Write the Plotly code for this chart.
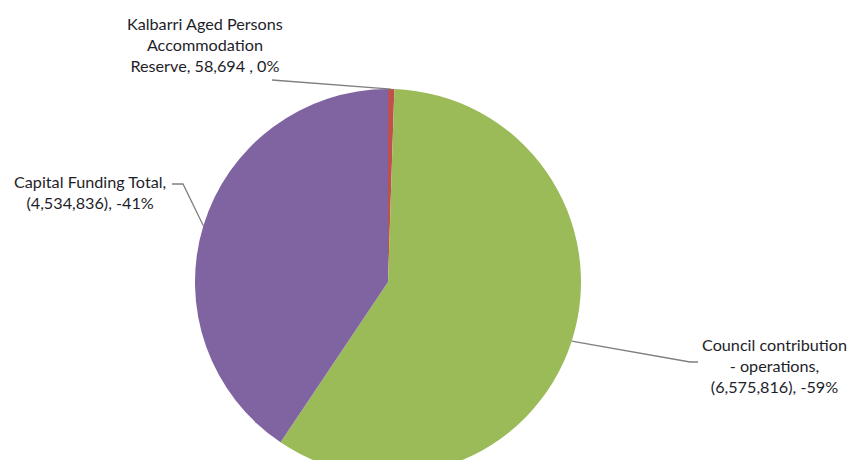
import math
import plotly.graph_objects as go

# ---- data ----
categories = ["Kalbarri Aged Persons Accommodation Reserve",
              "Council contribution - operations",
              "Capital Funding Total"]
values = [58694, -6575816, -4534836]
pct_labels = ["0%", "-59%", "-41%"]
label_texts = ["Kalbarri Aged Persons<br>Accommodation<br>Reserve, 58,694 , 0%",
               "Council contribution<br>- operations,<br>(6,575,816), -59%",
               "Capital Funding Total,<br>(4,534,836), -41%"]
colors = ["#C0504D", "#9BBB59", "#8064A2"]

# ---- layout geometry (pixels) ----
W, H = 855, 500
cx, cy, r = 388, 282, 193

def px(x):
    return x / W

def py(y):
    return 1 - y / H

abs_vals = [abs(v) for v in values]
total = sum(abs_vals)

fig = go.Figure(go.Pie(
    labels=categories,
    values=abs_vals,
    sort=False,
    direction="clockwise",
    rotation=0,
    marker=dict(colors=colors, line=dict(width=0)),
    textinfo="none",
    hoverinfo="label+value+percent",
    showlegend=False,
    domain=dict(x=[px(cx - r), px(cx + r)], y=[py(cy + r), py(cy - r)]),
))

# edge points at the middle angle of each slice
edge = []
acc = 0
for v in abs_vals:
    mid = (acc + v / 2) / total * 2 * math.pi
    edge.append((cx + r * math.sin(mid), cy - r * math.cos(mid)))
    acc += v

font = dict(family="Lato, Carlito, Calibri, sans-serif", size=16.2, color="#1E1E2A")
label_pos = [(205, 45), (774, 365), (90, 192)]
for txt, (lx, ly) in zip(label_texts, label_pos):
    fig.add_annotation(x=px(lx), y=py(ly), xref="paper", yref="paper",
                       text=txt, showarrow=False, font=font,
                       xanchor="center", yanchor="middle", align="center")

line_style = dict(color="#7F7F7F", width=1.3)
# leader lines
paths = [
    [(272, 80), edge[0]],
    [edge[1], (690, 362), (698, 362)],
    [(172, 184), (183, 184), edge[2]],
]
for pts in paths:
    d = "M " + " L ".join(f"{px(x):.5f},{py(y):.5f}" for x, y in pts)
    fig.add_shape(type="path", path=d, xref="paper", yref="paper", line=line_style)

fig.update_layout(
    width=W, height=H,
    margin=dict(l=0, r=0, t=0, b=0),
    paper_bgcolor="white", plot_bgcolor="white",
)

fig.write_html("out.html", config={"displayModeBar": False}, post_script=(
    "document.body.style.margin='0';"
    "document.body.style.overflow='hidden';"
    "document.documentElement.style.overflow='hidden';"))
